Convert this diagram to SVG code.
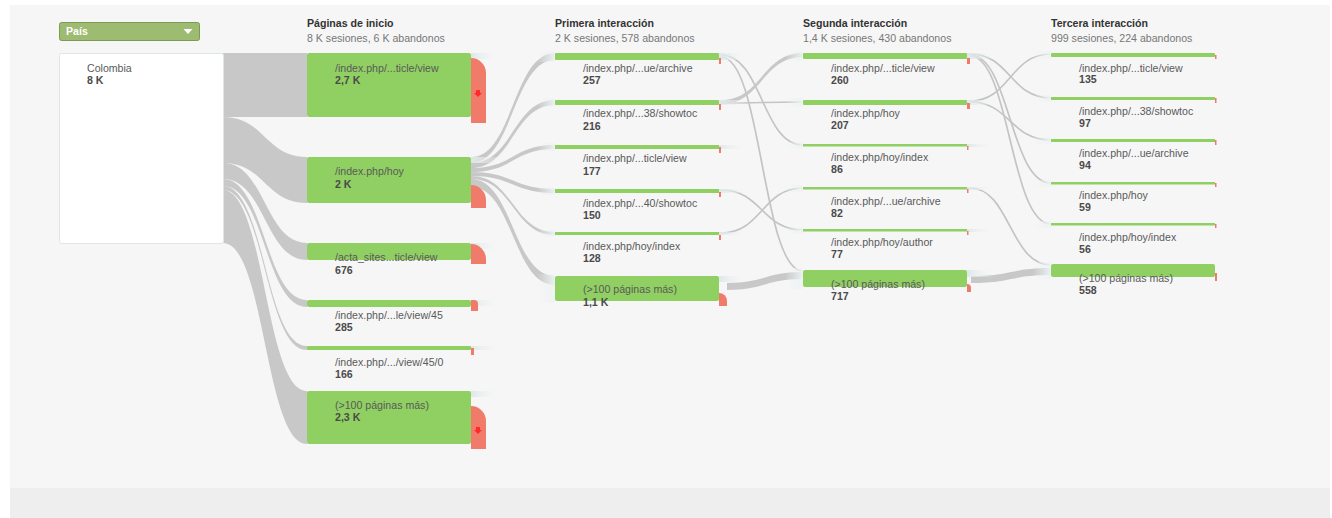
<svg xmlns="http://www.w3.org/2000/svg" width="1332" height="518" viewBox="0 0 1332 518">
<style>
.hdr{font-family:"Liberation Sans",Arial,sans-serif;font-size:10.6px;font-weight:bold;fill:#333}
.sub{font-family:"Liberation Sans",Arial,sans-serif;font-size:10.6px;fill:#777}
.lbl{font-family:"Liberation Sans",Arial,sans-serif;font-size:10.6px;fill:#5a5a5a}
.num{font-family:"Liberation Sans",Arial,sans-serif;font-size:10.6px;font-weight:bold;fill:#4a4a4a}
.g{fill:#90cf62}
.r{fill:#f07b6b}
.band{fill:#c8c8c8}
.ln{fill:none;stroke:#c4c4c4;stroke-width:1.7}
.ar{fill:#ff2a2a}
</style>
<defs>
<linearGradient id="fadeL" x1="0" x2="1" y1="0" y2="0">
<stop offset="0" stop-color="#eef3f3" stop-opacity="0"/>
<stop offset="1" stop-color="#eef3f3" stop-opacity="0.95"/>
</linearGradient>
<linearGradient id="fadeR" x1="0" x2="1" y1="0" y2="0">
<stop offset="0" stop-color="#dde8e8" stop-opacity="1"/>
<stop offset="1" stop-color="#f6f6f6" stop-opacity="0"/>
</linearGradient>
</defs>
<rect x="0" y="0" width="1332" height="518" fill="#ffffff"/>
<rect x="10" y="5" width="1320" height="483" fill="#f6f6f6"/>
<rect x="10" y="488" width="1320" height="30" fill="#eeeeee"/>

<g id="dropdown">
<rect x="59.5" y="22.5" width="140" height="18" rx="2" fill="#9dbb71" stroke="#7c9a54"/>
<text x="66" y="35" font-family="Liberation Sans,Arial,sans-serif" font-size="10.6" font-weight="bold" fill="#ffffff">País</text>
<polygon points="183.5,29 192.5,29 188,34" fill="#ffffff"/>
</g>

<g id="headers">
<text class="hdr" x="307" y="27">Páginas de inicio</text>
<text class="sub" x="307" y="42">8 K sesiones, 6 K abandonos</text>
<text class="hdr" x="555" y="27">Primera interacción</text>
<text class="sub" x="555" y="42">2 K sesiones, 578 abandonos</text>
<text class="hdr" x="803" y="27">Segunda interacción</text>
<text class="sub" x="803" y="42">1,4 K sesiones, 430 abandonos</text>
<text class="hdr" x="1051" y="27">Tercera interacción</text>
<text class="sub" x="1051" y="42">999 sesiones, 224 abandonos</text>
</g>

<g id="connectors">
<path class="band" d="M223,53 H307 V117 H223 Z"/>
<path class="band" d="M223,117 C265,117 265,157 307,157 L307,203 C265,203 265,163 223,163 Z"/>
<path class="band" d="M223,163 C265,163 265,243 307,243 L307,260 C265,260 265,179 223,179 Z"/>
<path class="band" d="M223,179 C265,179 265,300 307,300 L307,307 C265,307 265,186 223,186 Z"/>
<path class="band" d="M223,186 C265,186 265,346 307,346 L307,350 C265,350 265,190 223,190 Z"/>
<path class="band" d="M223,190 C265,190 265,391 307,391 L307,444 C265,444 265,243 223,243 Z"/>
<path class="band" d="M471,157 C513,157 513,53 555,53 L555,60 C513,60 513,163 471,163 Z"/>
<path class="band" d="M471,163 C513,163 513,100 555,100 L555,105 C513,105 513,168 471,168 Z"/>
<path class="band" d="M471,168 C513,168 513,145 555,145 L555,149 C513,149 513,172 471,172 Z"/>
<path class="band" d="M471,172 C513,172 513,189 555,189 L555,193 C513,193 513,176 471,176 Z"/>
<path class="band" d="M471,176 C513,176 513,232 555,232 L555,235 C513,235 513,179 471,179 Z"/>
<path class="band" d="M471,179 C513,179 513,276 555,276 L555,285 C513,285 513,187 471,187 Z"/>
<path class="ln" d="M721,55 C762,55 762,145 803,145"/>
<path class="ln" d="M721,57 C762,57 762,271 803,271"/>
<path class="band" d="M721,100 C762,100 762,53 803,53 L803,57 C762,57 762,104 721,104 Z"/>
<path class="ln" d="M721,103 C762,103 762,102 803,102"/>
<path class="ln" d="M721,190 C762,190 762,230 803,230"/>
<path class="ln" d="M721,233 C762,233 762,188 803,188"/>
<path class="band" d="M727,283 C765,283 765,272 803,272 L803,279 C765,279 765,290 727,290 Z"/>
<path class="ln" d="M970,54 C1010,54 1010,98 1051,98"/>
<path class="ln" d="M970,55 C1010,55 1010,183 1051,183"/>
<path class="ln" d="M970,56 C1010,56 1010,224 1051,224"/>
<path class="ln" d="M970,101 C1010,101 1010,54 1051,54"/>
<path class="ln" d="M970,102 C1010,102 1010,140 1051,140"/>
<path class="ln" d="M970,188 C1010,188 1010,265 1051,265"/>
<path class="band" d="M971,276 C1011,276 1011,268 1051,268 L1051,275 C1011,275 1011,283 971,283 Z"/>
<rect x="537" y="51" width="18" height="11" fill="url(#fadeL)"/>
<rect x="537" y="98" width="18" height="9" fill="url(#fadeL)"/>
<rect x="537" y="143" width="18" height="8" fill="url(#fadeL)"/>
<rect x="537" y="187" width="18" height="8" fill="url(#fadeL)"/>
<rect x="537" y="230" width="18" height="7" fill="url(#fadeL)"/>
<rect x="537" y="274" width="18" height="29" fill="url(#fadeL)"/>
<rect x="785" y="51" width="18" height="10" fill="url(#fadeL)"/>
<rect x="785" y="98" width="18" height="9" fill="url(#fadeL)"/>
<rect x="785" y="142" width="18" height="7" fill="url(#fadeL)"/>
<rect x="785" y="185" width="18" height="7" fill="url(#fadeL)"/>
<rect x="785" y="227" width="18" height="7" fill="url(#fadeL)"/>
<rect x="785" y="268" width="18" height="21" fill="url(#fadeL)"/>
<rect x="1033" y="51" width="18" height="8" fill="url(#fadeL)"/>
<rect x="1033" y="95" width="18" height="7" fill="url(#fadeL)"/>
<rect x="1033" y="137" width="18" height="7" fill="url(#fadeL)"/>
<rect x="1033" y="180" width="18" height="7" fill="url(#fadeL)"/>
<rect x="1033" y="221" width="18" height="7" fill="url(#fadeL)"/>
<rect x="1033" y="262" width="18" height="17" fill="url(#fadeL)"/>
</g>

<g id="colombia">
<rect x="59.5" y="53.5" width="164" height="190" rx="2" fill="#ffffff" stroke="#dfe6e6"/>
<text class="lbl" x="87" y="72">Colombia</text>
<text class="num" x="87" y="84">8 K</text>
</g>

<g id="n1">
<rect x="471" y="53" width="30" height="6" fill="url(#fadeR)"/>
<rect class="g" x="307" y="53" width="164" height="64" rx="2"/>
<path class="r" d="M471,58 A15,15 0 0 1 486,73 V123 H471 Z"/>
<path class="ar" d="M476,90 h4 v3 h2 l-4,4 l-4,-4 h2 Z"/>
<text class="lbl" x="335" y="72">/index.php/...ticle/view</text>
<text class="num" x="335" y="84">2,7 K</text>
</g>
<g id="n2">
<rect x="471" y="157" width="30" height="6" fill="url(#fadeR)"/>
<rect class="g" x="307" y="157" width="164" height="46" rx="2"/>
<path class="r" d="M471,185 A15,15 0 0 1 486,200 V208 H471 Z"/>
<text class="lbl" x="335" y="175">/index.php/hoy</text>
<text class="num" x="335" y="188">2 K</text>
</g>
<g id="n3">
<rect x="471" y="243" width="30" height="6" fill="url(#fadeR)"/>
<rect class="g" x="307" y="243" width="164" height="17" rx="2"/>
<path class="r" d="M471,244 A15,15 0 0 1 486,259 V264 H471 Z"/>
<text class="lbl" x="335" y="261">/acta_sites...ticle/view</text>
<text class="num" x="335" y="274">676</text>
</g>
<g id="n4">
<rect x="471" y="300" width="30" height="6" fill="url(#fadeR)"/>
<rect class="g" x="307" y="300" width="164" height="7" rx="2"/>
<path class="r" d="M471,300 H474 A4,4 0 0 1 478,304 V311 H471 Z"/>
<text class="lbl" x="335" y="319">/index.php/...le/view/45</text>
<text class="num" x="335" y="331">285</text>
</g>
<g id="n5">
<rect x="471" y="346" width="30" height="4" fill="url(#fadeR)"/>
<rect class="g" x="307" y="346" width="164" height="4" rx="1"/>
<rect class="r" x="471" y="348" width="3" height="7"/>
<text class="lbl" x="335" y="366">/index.php/.../view/45/0</text>
<text class="num" x="335" y="378">166</text>
</g>
<g id="n6">
<rect x="471" y="391" width="30" height="6" fill="url(#fadeR)"/>
<rect class="g" x="307" y="391" width="164" height="53" rx="2"/>
<path class="r" d="M471,406 A15,15 0 0 1 486,421 V449 H471 Z"/>
<path class="ar" d="M476,427 h4 v3 h2 l-4,4 l-4,-4 h2 Z"/>
<text class="lbl" x="335" y="409">(&gt;100 páginas más)</text>
<text class="num" x="335" y="421">2,3 K</text>
</g>

<g id="p1">
<rect x="719" y="53" width="28" height="7" fill="url(#fadeR)"/>
<rect class="g" x="555" y="53" width="164" height="7" rx="1"/>
<rect class="r" x="719" y="58" width="2" height="6"/>
<text class="lbl" x="583" y="72">/index.php/...ue/archive</text>
<text class="num" x="583" y="84">257</text>
</g>
<g id="p2">
<rect x="719" y="100" width="28" height="5" fill="url(#fadeR)"/>
<rect class="g" x="555" y="100" width="164" height="5" rx="1"/>
<rect class="r" x="719" y="104" width="2" height="6"/>
<text class="lbl" x="583" y="117">/index.php/...38/showtoc</text>
<text class="num" x="583" y="130">216</text>
</g>
<g id="p3">
<rect x="719" y="145" width="28" height="4" fill="url(#fadeR)"/>
<rect class="g" x="555" y="145" width="164" height="4"/>
<rect class="r" x="719" y="147" width="2" height="6"/>
<text class="lbl" x="583" y="162">/index.php/...ticle/view</text>
<text class="num" x="583" y="175">177</text>
</g>
<g id="p4">
<rect x="719" y="189" width="28" height="4" fill="url(#fadeR)"/>
<rect class="g" x="555" y="189" width="164" height="4"/>
<rect class="r" x="719" y="192" width="2" height="5"/>
<text class="lbl" x="583" y="207">/index.php/...40/showtoc</text>
<text class="num" x="583" y="219">150</text>
</g>
<g id="p5">
<rect x="719" y="232" width="28" height="3" fill="url(#fadeR)"/>
<rect class="g" x="555" y="232" width="164" height="3"/>
<rect class="r" x="719" y="235" width="2" height="5"/>
<text class="lbl" x="583" y="250">/index.php/hoy/index</text>
<text class="num" x="583" y="262">128</text>
</g>
<g id="p6">
<rect x="719" y="276" width="28" height="6" fill="url(#fadeR)"/>
<rect class="g" x="555" y="276" width="164" height="25" rx="2"/>
<path class="r" d="M719,293 A8,8 0 0 1 727,301 V306 H719 Z"/>
<text class="lbl" x="583" y="293">(&gt;100 páginas más)</text>
<text class="num" x="583" y="306">1,1 K</text>
</g>

<g id="s1">
<rect x="967" y="53" width="28" height="6" fill="url(#fadeR)"/>
<rect class="g" x="803" y="53" width="164" height="6" rx="1"/>
<rect class="r" x="967" y="58" width="3" height="6"/>
<text class="lbl" x="831" y="72">/index.php/...ticle/view</text>
<text class="num" x="831" y="84">260</text>
</g>
<g id="s2">
<rect x="967" y="100" width="28" height="5" fill="url(#fadeR)"/>
<rect class="g" x="803" y="100" width="164" height="5" rx="1"/>
<rect class="r" x="967" y="103" width="3" height="6"/>
<text class="lbl" x="831" y="117">/index.php/hoy</text>
<text class="num" x="831" y="129">207</text>
</g>
<g id="s3">
<rect x="967" y="144" width="28" height="3" fill="url(#fadeR)"/>
<rect class="g" x="803" y="144" width="164" height="2.5"/>
<rect class="r" x="967" y="146" width="1.5" height="4"/>
<text class="lbl" x="831" y="161">/index.php/hoy/index</text>
<text class="num" x="831" y="173">86</text>
</g>
<g id="s4">
<rect x="967" y="187" width="28" height="3" fill="url(#fadeR)"/>
<rect class="g" x="803" y="187" width="164" height="2.5"/>
<rect class="r" x="967" y="189" width="1.5" height="4"/>
<text class="lbl" x="831" y="205">/index.php/...ue/archive</text>
<text class="num" x="831" y="217">82</text>
</g>
<g id="s5">
<rect x="967" y="229" width="28" height="3" fill="url(#fadeR)"/>
<rect class="g" x="803" y="229" width="164" height="2.5"/>
<rect class="r" x="967" y="231" width="1.5" height="4"/>
<text class="lbl" x="831" y="246">/index.php/hoy/author</text>
<text class="num" x="831" y="258">77</text>
</g>
<g id="s6">
<rect x="967" y="270" width="28" height="7" fill="url(#fadeR)"/>
<rect class="g" x="803" y="270" width="164" height="17" rx="2"/>
<path class="r" d="M967,284 A4,4 0 0 1 971,288 V292 H967 Z"/>
<text class="lbl" x="831" y="288">(&gt;100 páginas más)</text>
<text class="num" x="831" y="300">717</text>
</g>

<g id="t1">
<rect class="g" x="1051" y="53" width="164" height="4" rx="1"/>
<rect class="r" x="1215" y="55" width="1.5" height="4"/>
<text class="lbl" x="1079" y="72">/index.php/...ticle/view</text>
<text class="num" x="1079" y="83">135</text>
</g>
<g id="t2">
<rect class="g" x="1051" y="97" width="164" height="3"/>
<rect class="r" x="1215" y="98" width="1.5" height="5"/>
<text class="lbl" x="1079" y="115">/index.php/...38/showtoc</text>
<text class="num" x="1079" y="127">97</text>
</g>
<g id="t3">
<rect class="g" x="1051" y="139" width="164" height="3"/>
<rect class="r" x="1215" y="140" width="1.5" height="5"/>
<text class="lbl" x="1079" y="157">/index.php/...ue/archive</text>
<text class="num" x="1079" y="169">94</text>
</g>
<g id="t4">
<rect class="g" x="1051" y="182" width="164" height="2.5"/>
<rect class="r" x="1215" y="183" width="1.5" height="4"/>
<text class="lbl" x="1079" y="199">/index.php/hoy</text>
<text class="num" x="1079" y="211">59</text>
</g>
<g id="t5">
<rect class="g" x="1051" y="223" width="164" height="2.5"/>
<rect class="r" x="1215" y="224" width="1.5" height="4"/>
<text class="lbl" x="1079" y="241">/index.php/hoy/index</text>
<text class="num" x="1079" y="253">56</text>
</g>
<g id="t6">
<rect class="g" x="1051" y="264" width="164" height="13" rx="2"/>
<rect class="r" x="1215" y="273" width="2" height="8"/>
<text class="lbl" x="1079" y="282">(&gt;100 páginas más)</text>
<text class="num" x="1079" y="294">558</text>
</g>
</svg>
